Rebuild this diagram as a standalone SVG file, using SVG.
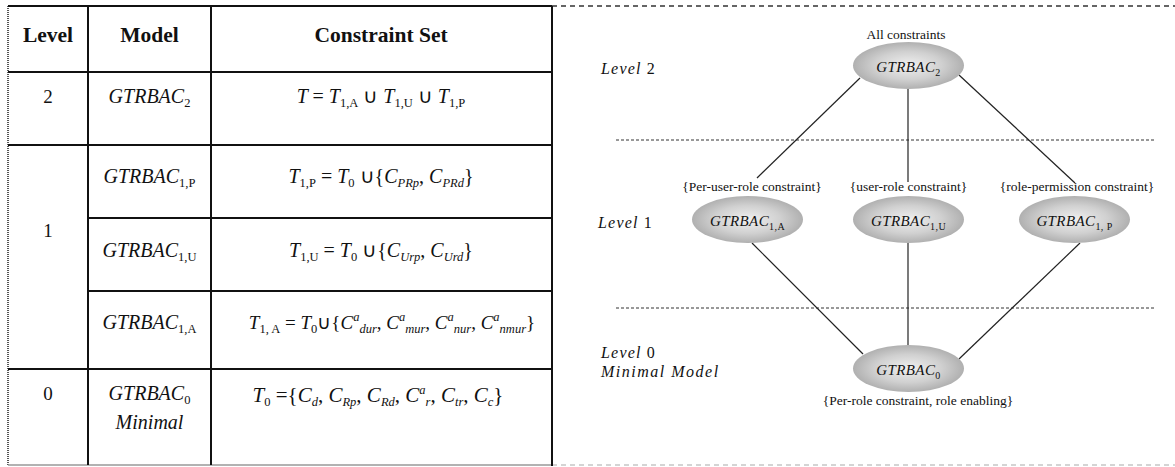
<svg xmlns="http://www.w3.org/2000/svg" width="1175" height="467" viewBox="0 0 1175 467">
<defs>
<radialGradient id="eg" cx="50%" cy="50%" r="50%">
<stop offset="0" stop-color="#f0f0f0"/>
<stop offset="0.6" stop-color="#d0d0d0"/>
<stop offset="1" stop-color="#b0b0b0"/>
</radialGradient>
<style>
.serif{font-family:"Liberation Serif","Times New Roman",serif;fill:#111}
.hdr{font-weight:bold;font-size:21.5px;text-anchor:middle}
.num{font-size:19px;text-anchor:middle}
.it{font-style:italic;font-size:20px;text-anchor:middle}
.s{font-size:12.5px;font-style:normal}
.si{font-size:12.5px;font-style:italic}
.up{font-style:normal}
.lvl{font-style:italic;font-size:16px;letter-spacing:1.2px}
.lbl{font-size:13.5px;text-anchor:middle}
.et{font-style:italic;font-size:15px;text-anchor:middle;letter-spacing:0.4px}
.es{font-size:10px;font-style:normal}
.grid{stroke:#111;stroke-width:2;fill:none}
.conn{stroke:#222;stroke-width:1.2;fill:none}
.lev{stroke:#333;stroke-width:1;stroke-dasharray:3,2;fill:none}
.ell{fill:url(#eg);stroke:none}
</style>
</defs>
<rect width="1175" height="467" fill="#fff"/>

<g id="frame">
<line x1="8" y1="6" x2="8" y2="465" stroke="#555" stroke-width="2" stroke-dasharray="1,1"/>
<line x1="552" y1="6" x2="1175" y2="6" stroke="#333" stroke-width="1.5" stroke-dasharray="5,4"/>
<line x1="8" y1="465" x2="552" y2="465" stroke="#999" stroke-width="1.5"/>
<line x1="552" y1="465" x2="1175" y2="465" stroke="#aaa" stroke-width="1.2" stroke-dasharray="5,4"/>
</g>

<g id="table" class="grid">
<line x1="8" y1="6" x2="552" y2="6"/>
<line x1="88" y1="6" x2="88" y2="465"/>
<line x1="211" y1="6" x2="211" y2="465"/>
<line x1="552" y1="6" x2="552" y2="466"/>
<line x1="8" y1="72" x2="552" y2="72"/>
<line x1="8" y1="145" x2="552" y2="145"/>
<line x1="88" y1="218" x2="552" y2="218"/>
<line x1="88" y1="291" x2="552" y2="291"/>
<line x1="8" y1="369" x2="552" y2="369"/>
</g>

<g id="table-text" class="serif">
<text class="hdr" x="48" y="42">Level</text>
<text class="hdr" x="149.5" y="42">Model</text>
<text class="hdr" x="381" y="42">Constraint Set</text>

<text class="num" x="48" y="103">2</text>
<text class="num" x="48" y="237">1</text>
<text class="num" x="48" y="400">0</text>

<text class="it" x="149.5" y="103">GTRBAC<tspan class="s" dy="4">2</tspan></text>
<text class="it" x="149.5" y="183">GTRBAC<tspan class="s" dy="4">1,P</tspan></text>
<text class="it" x="149.5" y="257">GTRBAC<tspan class="s" dy="4">1,U</tspan></text>
<text class="it" x="149.5" y="329">GTRBAC<tspan class="s" dy="4">1,A</tspan></text>
<text class="it" x="149.5" y="400">GTRBAC<tspan class="s" dy="4">0</tspan></text>
<text class="it" x="149.5" y="429">Minimal</text>

<text class="it" x="381" y="103">T <tspan class="up">=</tspan> T<tspan class="s" dy="4">1,A</tspan><tspan class="up" dy="-4"> ∪ </tspan>T<tspan class="s" dy="4">1,U</tspan><tspan class="up" dy="-4"> ∪ </tspan>T<tspan class="s" dy="4">1,P</tspan></text>

<text class="it" x="381" y="183">T<tspan class="s" dy="4">1,P</tspan><tspan class="up" dy="-4"> = </tspan>T<tspan class="s" dy="4">0</tspan><tspan class="up" dy="-4"> ∪{</tspan>C<tspan class="si" dy="4">PRp</tspan><tspan class="up" dy="-4">, </tspan>C<tspan class="si" dy="4">PRd</tspan><tspan class="up" dy="-4">}</tspan></text>

<text class="it" x="381" y="257">T<tspan class="s" dy="4">1,U</tspan><tspan class="up" dy="-4"> = </tspan>T<tspan class="s" dy="4">0</tspan><tspan class="up" dy="-4"> ∪{</tspan>C<tspan class="si" dy="4">Urp</tspan><tspan class="up" dy="-4">, </tspan>C<tspan class="si" dy="4">Urd</tspan><tspan class="up" dy="-4">}</tspan></text>

<text class="it" x="392" y="329" style="font-size:19px">T<tspan class="s" dy="4">1, A</tspan><tspan class="up" dy="-4"> = </tspan>T<tspan class="s" dy="4">0</tspan><tspan class="up" dy="-4">∪{</tspan>C<tspan class="si" dy="-8">a</tspan><tspan class="si" dy="12">dur</tspan><tspan class="up" dy="-4">, </tspan>C<tspan class="si" dy="-8">a</tspan><tspan class="si" dy="12">mur</tspan><tspan class="up" dy="-4">, </tspan>C<tspan class="si" dy="-8">a</tspan><tspan class="si" dy="12">nur</tspan><tspan class="up" dy="-4">, </tspan>C<tspan class="si" dy="-8">a</tspan><tspan class="si" dy="12">nmur</tspan><tspan class="up" dy="-4">}</tspan></text>

<text class="it" x="378" y="402" style="font-size:21px">T<tspan class="s" dy="4">0</tspan><tspan class="up" dy="-4"> ={</tspan>C<tspan class="si" dy="4">d</tspan><tspan class="up" dy="-4">, </tspan>C<tspan class="si" dy="4">Rp</tspan><tspan class="up" dy="-4">, </tspan>C<tspan class="si" dy="4">Rd</tspan><tspan class="up" dy="-4">, </tspan>C<tspan class="si" dy="-8">a</tspan><tspan class="si" dy="12">r</tspan><tspan class="up" dy="-4">, </tspan>C<tspan class="si" dy="4">tr</tspan><tspan class="up" dy="-4">, </tspan>C<tspan class="si" dy="4">c</tspan><tspan class="up" dy="-4">}</tspan></text>
</g>

<g id="level-lines">
<line class="lev" x1="616" y1="140" x2="1156" y2="140"/>
<line class="lev" x1="616" y1="308" x2="1156" y2="308"/>
</g>

<g id="level-labels" class="serif">
<text class="lvl" x="601" y="74">Level <tspan class="up">2</tspan></text>
<text class="lvl" x="598" y="228">Level <tspan class="up">1</tspan></text>
<text class="lvl" x="601" y="358">Level <tspan class="up">0</tspan></text>
<text class="lvl" x="601" y="377" style="letter-spacing:1.5px">Minimal Model</text>
</g>

<g id="connectors" class="conn">
<line x1="860" y1="78" x2="757" y2="178"/>
<line x1="908" y1="89" x2="908" y2="182"/>
<line x1="959" y1="75" x2="1075" y2="183"/>
<line x1="752" y1="243" x2="863" y2="354"/>
<line x1="908" y1="243" x2="908" y2="345"/>
<line x1="1080" y1="243" x2="959" y2="359"/>
</g>

<g id="node-gtrbac2" class="serif">
<text class="lbl" x="906" y="39">All constraints</text>
<ellipse class="ell" cx="908.5" cy="65.5" rx="55.5" ry="23.5"/>
<text class="et" x="908.5" y="72">GTRBAC<tspan class="es" dy="4">2</tspan></text>
</g>

<g id="node-gtrbac1a" class="serif">
<text class="lbl" x="752" y="191">{Per-user-role constraint}</text>
<ellipse class="ell" cx="747.5" cy="219.5" rx="55.5" ry="23.5"/>
<text class="et" x="747.5" y="226">GTRBAC<tspan class="es" dy="4">1,A</tspan></text>
</g>

<g id="node-gtrbac1u" class="serif">
<text class="lbl" x="908.5" y="191">{user-role constraint}</text>
<ellipse class="ell" cx="908.5" cy="219.5" rx="55.5" ry="23.5"/>
<text class="et" x="908.5" y="226">GTRBAC<tspan class="es" dy="4">1,U</tspan></text>
</g>

<g id="node-gtrbac1p" class="serif">
<text class="lbl" x="1077" y="191">{role-permission constraint}</text>
<ellipse class="ell" cx="1074.5" cy="219.5" rx="55.5" ry="23.5"/>
<text class="et" x="1074.5" y="226">GTRBAC<tspan class="es" dy="4">1, P</tspan></text>
</g>

<g id="node-gtrbac0" class="serif">
<ellipse class="ell" cx="908.5" cy="368.5" rx="55.5" ry="23.5"/>
<text class="et" x="908.5" y="375">GTRBAC<tspan class="es" dy="4">0</tspan></text>
<text class="lbl" x="918" y="405">{Per-role constraint, role enabling}</text>
</g>
</svg>
